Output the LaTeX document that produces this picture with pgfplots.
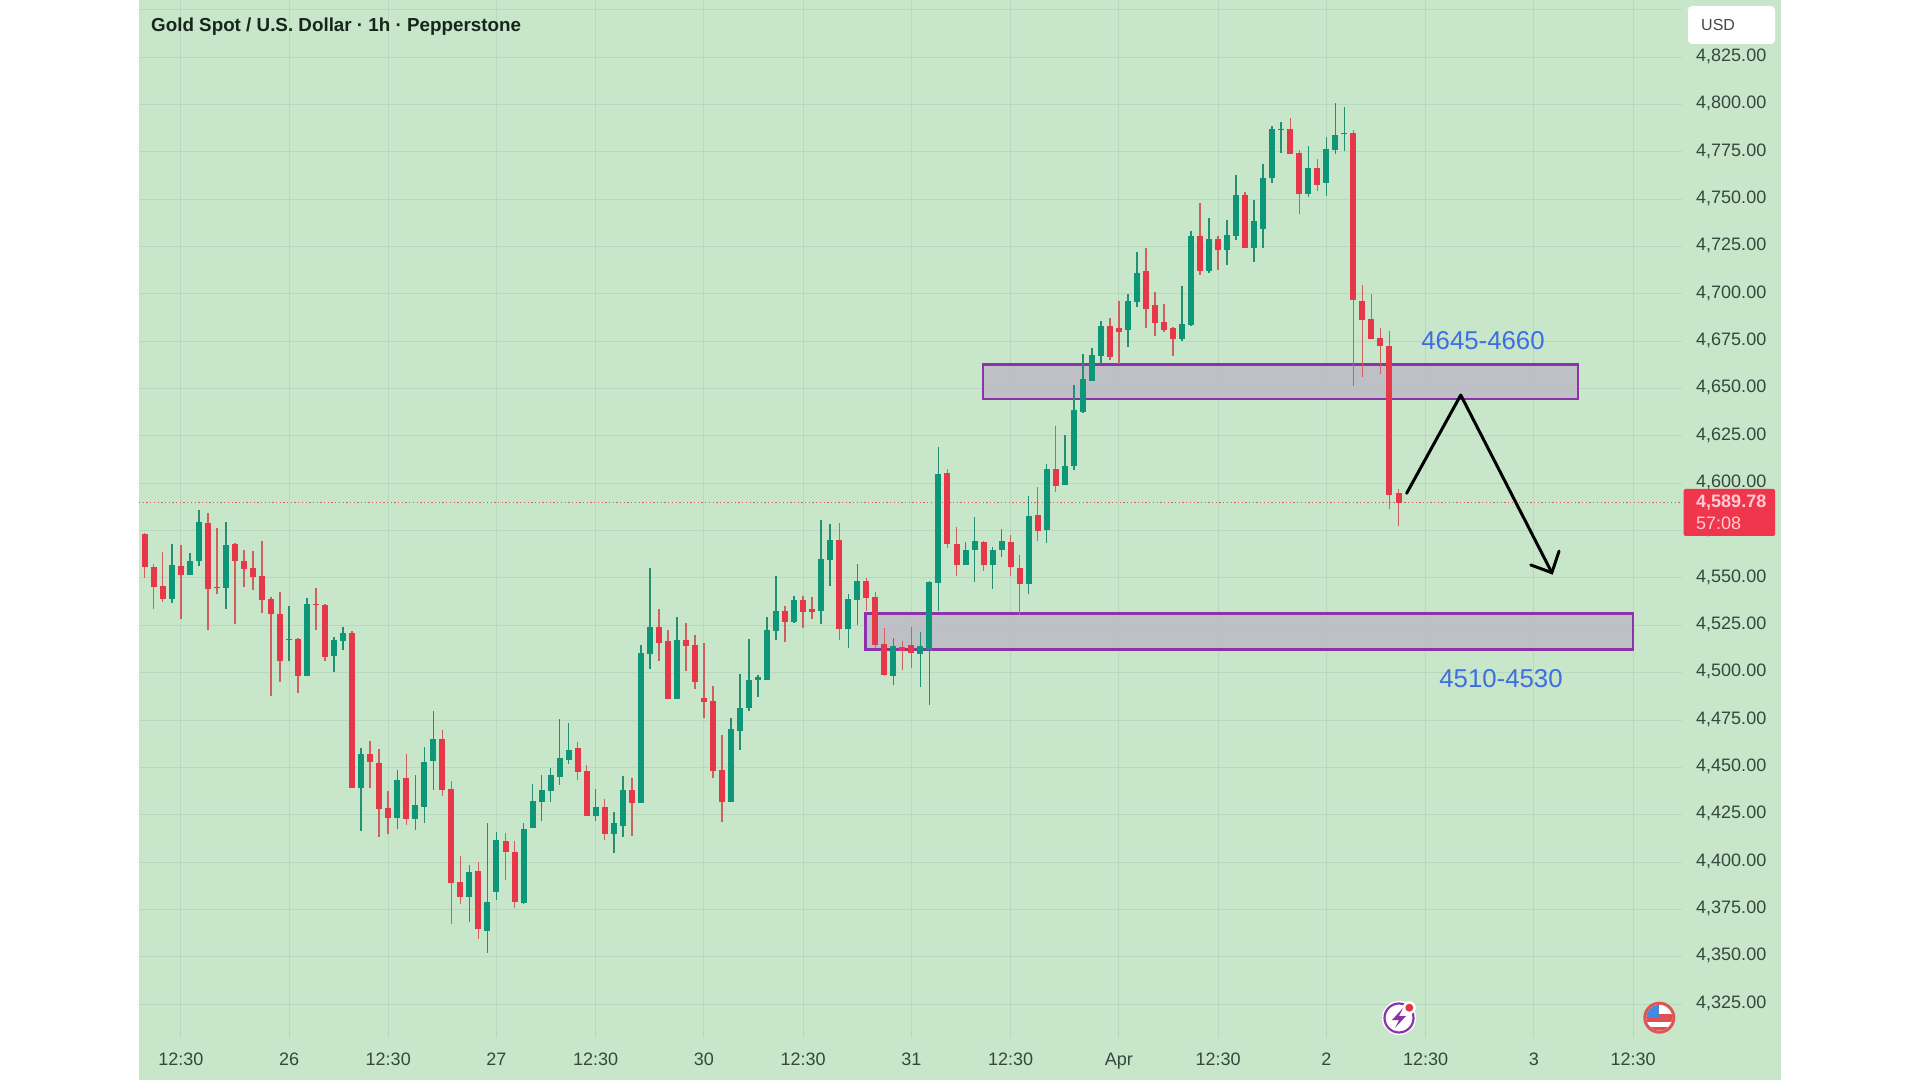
\documentclass[border=0pt]{standalone}
\usepackage{fontspec}
\setmainfont{Liberation Sans}
\usepackage{pgfplots}
\usepackage{pgfplotstable}
\pgfplotsset{compat=1.18}
\definecolor{bgc}{RGB}{200,230,201}
\definecolor{gridc}{RGB}{184,216,190}
\definecolor{upc}{RGB}{14,150,120}
\definecolor{dnc}{RGB}{230,56,72}
\definecolor{upw}{RGB}{38,142,114}
\definecolor{dnw}{RGB}{208,96,94}
\definecolor{zonef}{RGB}{190,186,198}
\definecolor{zoned}{RGB}{140,50,170}
\definecolor{labc}{RGB}{52,72,62}
\definecolor{bluet}{RGB}{62,110,225}
\definecolor{titc}{RGB}{22,38,28}
\definecolor{usdc}{RGB}{70,72,72}
\definecolor{tagc}{RGB}{240,54,76}
\definecolor{tagt}{RGB}{255,205,210}
\definecolor{dotc}{RGB}{225,55,65}
\definecolor{flagr}{RGB}{225,80,80}
\definecolor{flagb}{RGB}{70,135,225}
\definecolor{flagd}{RGB}{222,85,85}
\pgfplotstableread{
i o h l c
0 4573.2 4574.0 4549.8 4555.6
1 4556.0 4557.2 4533.5 4545.4
2 4545.8 4563.6 4537.2 4539.1
4 4556.5 4567.4 4528.4 4551.8
7 4578.9 4584.2 4522.6 4544.2
8 4545.3 4576.2 4541.6 4544.9
10 4568.1 4568.7 4525.7 4558.8
11 4559.2 4565.0 4545.4 4554.9
12 4555.5 4564.3 4543.5 4550.5
13 4550.9 4569.4 4531.4 4538.4
14 4538.9 4540.2 4487.7 4530.8
15 4531.2 4542.4 4495.3 4506.2
17 4518.0 4518.5 4489.5 4498.4
19 4536.3 4544.6 4522.4 4535.9
20 4535.8 4536.3 4506.0 4508.5
23 4521.2 4522.0 4439.3 4439.3
25 4456.9 4464.0 4439.3 4452.7
26 4452.5 4459.6 4413.4 4427.9
27 4428.4 4437.4 4415.0 4423.5
29 4444.2 4457.1 4419.6 4422.8
33 4465.2 4469.8 4435.1 4438.1
34 4438.4 4443.0 4367.5 4389.2
35 4389.7 4403.1 4377.9 4381.6
37 4395.3 4399.9 4359.4 4364.5
40 4411.2 4415.2 4390.6 4405.2
41 4405.5 4411.3 4375.6 4378.9
48 4460.0 4463.2 4443.1 4447.5
49 4448.1 4451.0 4424.1 4424.1
51 4429.0 4433.4 4411.4 4414.6
54 4437.8 4444.2 4413.9 4431.0
57 4524.3 4533.8 4506.1 4515.6
58 4516.5 4522.3 4486.2 4486.2
60 4517.4 4526.0 4500.9 4514.2
61 4514.8 4519.9 4491.4 4495.2
62 4486.8 4515.5 4476.2 4484.3
63 4484.8 4493.1 4444.4 4448.2
64 4448.6 4467.1 4421.0 4431.7
71 4532.5 4535.0 4516.0 4526.9
73 4538.2 4540.6 4523.6 4532.0
74 4533.8 4540.1 4528.5 4532.0
77 4569.8 4578.8 4517.4 4523.2
80 4548.4 4550.1 4532.7 4539.6
81 4540.1 4542.4 4513.2 4514.8
82 4515.3 4523.4 4498.4 4498.9
84 4513.4 4516.5 4501.4 4511.2
85 4514.6 4524.1 4502.4 4510.5
89 4605.6 4607.4 4565.6 4568.1
90 4567.9 4576.9 4551.2 4556.8
93 4568.8 4569.3 4553.7 4556.8
96 4568.8 4572.5 4551.2 4555.6
97 4555.4 4562.3 4530.3 4546.8
99 4583.4 4598.0 4569.5 4574.8
101 4607.5 4630.4 4595.6 4598.7
107 4683.1 4687.5 4665.1 4666.5
108 4681.8 4696.4 4663.0 4680.1
111 4712.3 4724.1 4682.0 4692.2
112 4694.0 4700.8 4678.0 4684.5
113 4685.0 4694.5 4680.1 4681.1
114 4681.8 4682.7 4667.4 4676.2
117 4730.8 4747.8 4709.8 4712.3
119 4728.8 4730.8 4712.8 4723.2
122 4752.4 4754.0 4724.4 4724.4
127 4787.2 4793.1 4773.9 4773.9
128 4774.6 4775.8 4742.2 4752.9
130 4766.3 4771.4 4754.3 4757.3
134 4784.8 4786.5 4651.6 4696.6
135 4696.4 4704.5 4655.9 4686.2
136 4686.7 4699.8 4676.0 4676.2
137 4676.5 4681.8 4657.7 4672.3
138 4672.6 4680.6 4586.6 4593.6
139 4594.7 4596.8 4577.6 4589.78
}\redtab
\pgfplotstableread{
i o h l c
3 4539.1 4568.0 4536.6 4556.7
5 4551.8 4563.0 4551.8 4559.2
6 4558.8 4585.9 4556.4 4579.6
9 4544.9 4579.4 4533.5 4567.4
16 4517.6 4535.1 4506.0 4518.0
18 4498.4 4539.3 4498.4 4536.3
21 4508.7 4519.0 4500.4 4517.1
22 4516.8 4524.1 4511.8 4521.0
24 4439.3 4460.1 4416.6 4456.9
28 4423.5 4448.6 4417.5 4443.5
30 4422.8 4446.2 4417.1 4430.2
31 4429.3 4460.6 4420.8 4453.0
32 4453.4 4479.8 4438.1 4465.2
36 4381.8 4398.5 4368.2 4394.6
38 4363.8 4420.7 4351.8 4378.8
39 4384.2 4415.7 4380.2 4411.9
42 4378.2 4420.7 4377.9 4417.5
43 4417.8 4441.2 4417.8 4432.0
44 4431.7 4446.1 4421.5 4437.8
45 4437.5 4449.8 4431.7 4445.9
46 4445.1 4475.3 4440.7 4455.1
47 4453.9 4473.6 4451.9 4459.3
50 4424.1 4438.5 4421.5 4428.9
52 4414.6 4426.4 4404.9 4420.6
53 4419.2 4445.4 4413.2 4437.8
55 4431.2 4514.8 4431.2 4510.4
56 4509.8 4555.2 4502.1 4524.3
59 4486.2 4529.4 4486.2 4517.0
65 4431.7 4475.9 4431.7 4470.2
66 4469.2 4499.4 4459.1 4481.5
67 4481.3 4517.8 4479.6 4496.1
68 4495.9 4498.7 4487.0 4497.5
69 4496.4 4529.2 4496.4 4522.3
70 4522.0 4550.8 4517.4 4532.5
72 4526.7 4540.6 4526.0 4538.2
75 4532.7 4580.8 4525.7 4559.8
76 4559.5 4578.3 4545.9 4569.8
78 4523.2 4541.3 4513.2 4538.7
79 4538.5 4557.2 4525.0 4548.4
83 4498.4 4518.5 4493.3 4513.9
86 4510.0 4521.6 4492.6 4513.9
87 4511.9 4548.4 4483.1 4547.8
88 4547.5 4619.3 4532.7 4604.9
91 4556.8 4569.2 4556.8 4564.9
92 4564.6 4582.0 4548.0 4569.3
94 4557.0 4566.2 4544.2 4564.8
95 4564.6 4575.7 4561.2 4569.3
98 4546.8 4593.5 4541.7 4582.5
100 4575.1 4610.0 4568.3 4607.4
102 4598.9 4625.3 4598.9 4609.3
103 4608.9 4651.9 4607.0 4638.7
104 4637.8 4668.1 4636.9 4655.1
105 4654.0 4671.6 4654.0 4667.7
106 4667.4 4685.7 4663.0 4683.1
109 4680.8 4700.1 4671.8 4696.4
110 4695.9 4722.3 4693.3 4711.0
115 4676.2 4704.0 4675.0 4684.3
116 4683.6 4733.2 4683.2 4730.8
118 4712.3 4740.3 4711.2 4728.8
120 4723.2 4739.0 4715.4 4731.3
121 4730.8 4763.0 4728.3 4752.2
123 4724.4 4749.8 4716.8 4738.3
124 4734.1 4768.8 4724.4 4761.2
125 4761.2 4788.5 4758.7 4787.2
126 4786.9 4790.9 4774.6 4787.2
129 4752.9 4778.3 4751.0 4766.3
131 4758.7 4782.7 4751.7 4776.3
132 4775.8 4800.6 4773.9 4784.1
133 4784.4 4798.5 4775.3 4784.8
}\greentab
\begin{document}
\begin{tikzpicture}
\path[use as bounding box] (0pt,0pt) rectangle (1920pt,1080pt);
\fill[bgc] (139pt,0pt) rectangle (1781pt,1080pt);
\begin{axis}[
  at={(139pt,42pt)}, anchor=south west,
  scale only axis, width=1543pt, height=1038pt,
  xmin=-0.632, xmax=170.43, ymin=4307.1, ymax=4855.2,
  axis line style={draw=none},
  major tick length=0pt,
  tick style={draw=none},
  xtick={4,16,27,39,50,62,73,85,96,108,119,131,142,154,165},
  xticklabels={12:30,26,12:30,27,12:30,30,12:30,31,12:30,Apr,12:30,2,12:30,3,12:30},
  ytick={4325,4350,...,4825},
  extra y ticks={4850}, extra y tick labels={},
  extra y tick style={grid=major},
  xmajorgrids, ymajorgrids,
  grid style={line width=1pt,color=gridc},
  yticklabel pos=right,
  scaled y ticks=false,
  yticklabel style={anchor=west,inner sep=0pt,xshift=14pt,yshift=1pt,font=\fontsize{18}{20}\selectfont,text=labc,
    /pgf/number format/fixed,/pgf/number format/fixed zerofill,/pgf/number format/precision=2,
    /pgf/number format/1000 sep={,},/pgf/number format/assume math mode=true},
  xticklabel style={anchor=base,inner sep=0pt,yshift=-27pt,font=\fontsize{18}{20}\selectfont,text=labc},
  clip=true,
]
% price line
\addplot[forget plot,line width=1.2pt,color=dnw,dash pattern=on 1.3pt off 2.4pt] coordinates {(-0.632,4589.78) (170.43,4589.78)};
% zones
\addplot[forget plot,draw=zoned,line width=2.6pt,fill=zonef,fill opacity=0.85] coordinates {(92.95,4662.6)(158.9,4662.6)(158.9,4644.5)(92.95,4644.5)} -- cycle;
\addplot[forget plot,draw=zoned,line width=2.6pt,fill=zonef,fill opacity=0.85] coordinates {(79.9,4531.4)(165.0,4531.4)(165.0,4512.2)(79.9,4512.2)} -- cycle;
% wicks
\addplot[forget plot,draw=none,no markers,error bars/.cd,y dir=both,y explicit,error mark=none,error bar style={draw=dnw,line width=1.5pt}]
  table[x=i,y=o,y error plus expr=\thisrow{h}-\thisrow{o},y error minus expr=\thisrow{o}-\thisrow{l}] {\redtab};
\addplot[forget plot,draw=none,no markers,error bars/.cd,y dir=both,y explicit,error mark=none,error bar style={draw=upw,line width=1.5pt}]
  table[x=i,y=o,y error plus expr=\thisrow{h}-\thisrow{o},y error minus expr=\thisrow{o}-\thisrow{l}] {\greentab};
% bodies
\addplot[forget plot,draw=none,no markers,error bars/.cd,y dir=minus,y explicit,error mark=none,error bar style={draw=dnc,line width=6pt}]
  table[x=i,y=o,y error minus expr=\thisrow{o}-\thisrow{c}] {\redtab};
\addplot[forget plot,draw=none,no markers,error bars/.cd,y dir=plus,y explicit,error mark=none,error bar style={draw=upc,line width=6pt}]
  table[x=i,y=o,y error plus expr=\thisrow{c}-\thisrow{o}] {\greentab};
% arrow
\addplot[forget plot,black,line width=3pt,line join=round,line cap=round] coordinates {(139.9,4594.7)(145.9,4646.6)(156.0,4552.8)};
\addplot[forget plot,black,line width=3pt,line join=miter,line cap=round] coordinates {(153.66,4556.9)(156.0,4552.8)(156.8,4564.2)};
\end{axis}
% texts
\node[anchor=west,inner sep=0pt,font=\fontsize{18.8}{20}\selectfont\bfseries,text=titc] at (151pt,1053.5pt) {Gold Spot / U.S. Dollar · 1h · Pepperstone};
\node[font=\fontsize{25.8}{28}\selectfont,text=bluet,inner sep=0pt] at (1483pt,739.5pt) {4645-4660};
\node[font=\fontsize{25.8}{28}\selectfont,text=bluet,inner sep=0pt] at (1501pt,401.5pt) {4510-4530};
% USD box
\fill[white,rounded corners=4pt] (1688pt,1074pt) rectangle (1775pt,1036pt);
\node[anchor=west,inner sep=0pt,font=\fontsize{16}{20}\selectfont,text=usdc] at (1701pt,1054.5pt) {USD};
% price tag
\fill[tagc,rounded corners=1.5pt] (1683.5pt,591pt) rectangle (1775pt,544pt);
\node[anchor=base west,inner sep=0pt,font=\fontsize{18}{20}\selectfont\bfseries,text=tagt] at (1696pt,572pt) {4,589.78};
\node[anchor=base west,inner sep=0pt,font=\fontsize{18}{20}\selectfont,text=tagt] at (1696pt,550.5pt) {57:08};
% lightning icon
\fill[white] (1399pt,62pt) circle (17pt);
\draw[zoned,line width=2.2pt] (1399pt,62pt) circle (14.5pt);
\fill[zoned] (1403pt,72pt) -- (1392pt,60pt) -- (1399pt,60pt) -- (1395pt,52pt) -- (1406pt,64pt) -- (1399pt,64pt) -- cycle;
\fill[white] (1409.3pt,72.3pt) circle (6.5pt);
\fill[dotc] (1409.3pt,72.3pt) circle (4pt);
% flag icon
\fill[white] (1659.3pt,62.3pt) circle (15pt);
\begin{scope}
\clip (1659.3pt,62.3pt) circle (13pt);
\fill[flagr] (1640pt,58pt) rectangle (1680pt,66pt);
\fill[flagr] (1640pt,46pt) rectangle (1680pt,53pt);
\fill[flagb] (1640pt,62pt) rectangle (1659pt,80pt);
\end{scope}
\draw[flagd,line width=3pt] (1659.3pt,62.3pt) circle (14.5pt);
\end{tikzpicture}
\end{document}
